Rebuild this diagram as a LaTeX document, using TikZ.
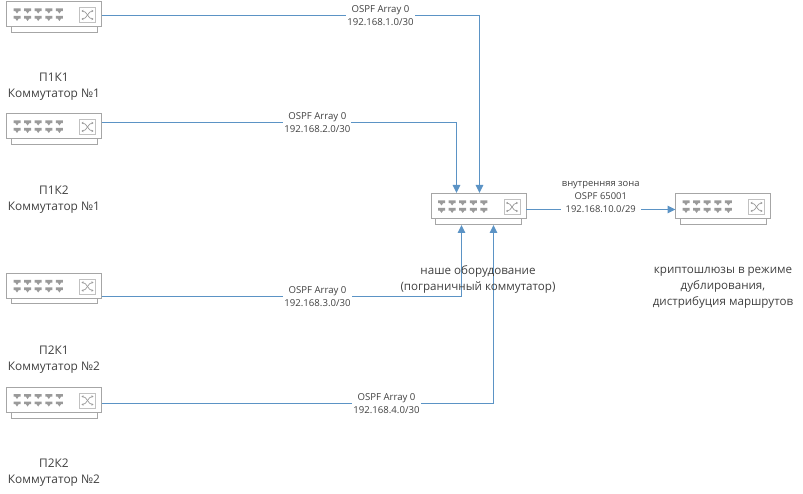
\documentclass[tikz,border=0pt]{standalone}
\usepackage{fontspec}
\setmainfont{Open Sans}
\usetikzlibrary{arrows.meta}
\definecolor{linkblue}{HTML}{5B93C5}
\definecolor{sw}{HTML}{A6A6A6}
\definecolor{swdark}{HTML}{9A9A9A}
\definecolor{txt}{HTML}{404040}
\tikzset{
 x=1pt,y=-1pt,
 swbox/.style={draw=sw,line width=1pt,fill=white,minimum width=95pt,minimum height=25pt,inner sep=0pt,outer sep=0pt},
 conn/.style={draw=linkblue,line width=1.3pt},
 arrowed/.style={-{Triangle[length=8pt,width=7.5pt]}},
 lab/.style={font=\fontsize{9.6}{13}\selectfont,text=txt,align=center,fill=white,inner sep=1pt},
 txtlab/.style={font=\fontsize{11.6}{16}\selectfont,text=txt,align=center,inner sep=0pt},
}
\newcommand{\swdraw}[3]{%
 \draw[sw,line width=1pt] (#2-43,#3+12) -- (#2-43,#3+18) -- (#2+43,#3+18) -- (#2+43,#3+12);
 \node[swbox] (#1) at (#2,#3) {};
 \foreach \i in {0,1,2,3,4} \foreach \j in {0,1}
  \fill[swdark] (#2-40.5+10.6*\i,#3-6+7.5*\j) -- ++(7,0) -- ++(0,2.6) -- ++(-1.8,0) -- ++(-1.7,2.4) -- ++(-1.7,-2.4) -- ++(-1.8,0) -- cycle;
 \draw[sw!70,line width=.8pt] (#2+25.5,#3-7) rectangle ++(16,15);
 \draw[swdark,line width=.7pt,{Stealth[length=2pt,width=2.4pt]}-{Stealth[length=2pt,width=2.4pt]}] (#2+27.5,#3-3.5) .. controls (#2+33,#3-3.5) and (#2+34,#3+4.5) .. (#2+39.5,#3+4.5);
 \draw[swdark,line width=.7pt,{Stealth[length=2pt,width=2.4pt]}-{Stealth[length=2pt,width=2.4pt]}] (#2+27.5,#3+4.5) .. controls (#2+33,#3+4.5) and (#2+34,#3-3.5) .. (#2+39.5,#3-3.5);
}
\begin{document}
\begin{tikzpicture}
\useasboundingbox (0,0) rectangle (803,494);
\swdraw{swa}{54}{14.5}
\swdraw{swb}{54}{126.5}
\swdraw{swc}{54}{286}
\swdraw{swd}{54}{400}
\swdraw{core}{478.5}{206.5}
\swdraw{gw}{723}{206.5}
\coordinate (oa) at ([yshift=-1pt]swa.east);
\coordinate (ob) at ([yshift=4pt]swb.east);
\coordinate (oc) at ([yshift=-10.5pt]swc.east);
\coordinate (od) at ([yshift=-3.5pt]swd.east);
\coordinate (oe) at ([yshift=-3pt]core.east);
\coordinate (ie) at ([yshift=-3pt]gw.west);
\coordinate (ta) at (479.5,193);
\coordinate (tb) at (456.5,193);
\coordinate (bc) at (461.5,225);
\coordinate (bd) at (493.5,225);
\draw[conn,arrowed] (oa) -| (ta) node[pos=.369,lab] (la) {OSPF Array 0\\192.168.1.0/30};
\draw[conn,arrowed] (ob) -| (tb) node[pos=.304,lab] (lb) {OSPF Array 0\\192.168.2.0/30};
\draw[conn,arrowed] (oc) -| (bc) node[pos=.3,lab] (lc) {OSPF Array 0\\192.168.3.0/30};
\draw[conn,arrowed] (od) -| (bd) node[pos=.3635,lab] (ld) {OSPF Array 0\\192.168.4.0/30};
\draw[conn,arrowed] (oe) -- (ie) node[midway,lab,anchor=south,yshift=-5pt,font=\fontsize{9.4}{13}\selectfont] (le) {внутренняя зона\\OSPF 65001\\192.168.10.0/29};
\node[txtlab,font=\fontsize{11.9}{16}\selectfont] (ta1) at (54,87) {П1К1\\Коммутатор №1};
\node[txtlab,font=\fontsize{11.9}{16}\selectfont] (tb1) at (54,200) {П1К2\\Коммутатор №1};
\node[txtlab,font=\fontsize{11.9}{16}\selectfont] (tc1) at (54,360) {П2К1\\Коммутатор №2};
\node[txtlab,font=\fontsize{11.9}{16}\selectfont] (td1) at (54,473) {П2К2\\Коммутатор №2};
\node[txtlab] (tcore) at (478,279.5) {наше оборудование\\(пограничный коммутатор)};
\node[txtlab] (tgw) at (723,287.5) {криптошлюзы в режиме\\дублирования,\\дистрибуция маршрутов};
\end{tikzpicture}
\end{document}
